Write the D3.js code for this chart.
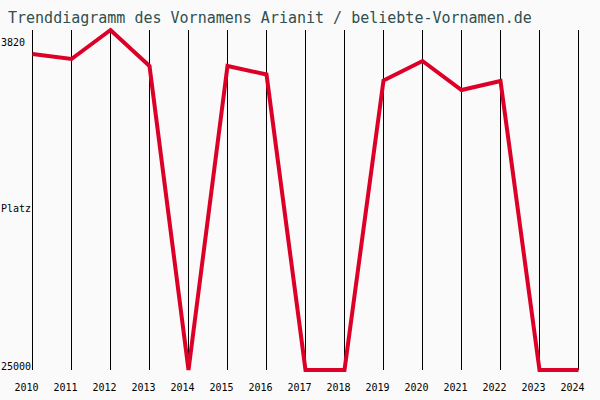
<!DOCTYPE html>
<html><head><meta charset="utf-8">
<script src="https://cdn.jsdelivr.net/npm/d3@7"></script>
<style>html,body{margin:0;padding:0;background:#fafafa;}svg{display:block;}</style>
</head><body>
<script>
const years = [2010,2011,2012,2013,2014,2015,2016,2017,2018,2019,2020,2021,2022,2023,2024];
const ranks = [5315,5626,3820,6062,25000,6062,6592,25000,25000,6966,5751,7557,6997,25000,25000];
const yTickLabels = ["3820","25000"];
const titleText = "Trenddiagramm des Vornamens Arianit / beliebte-Vornamen.de";
const yAxisLabel = "Platz";

const W=600,H=400;
const svg=d3.select("body").append("svg").attr("width",W).attr("height",H);
svg.append("rect").attr("width",W).attr("height",H).attr("fill","#fafafa");

const x=d3.scalePoint().domain(years).range([32.5,578.5]);
const y=d3.scaleLinear().domain([3820,25000]).range([30,370]);

svg.append("text").attr("x",8).attr("y",23).text(titleText)
  .attr("font-family","DejaVu Sans Mono").attr("font-size",15).attr("fill","#2f4f4f");

svg.append("g").selectAll("line").data(years).join("line")
  .attr("x1",d=>x(d)).attr("x2",d=>x(d)).attr("y1",30).attr("y2",370)
  .attr("stroke","#000").attr("stroke-width",1).attr("shape-rendering","crispEdges");

svg.append("g").selectAll("text").data(years).join("text")
  .attr("x",d=>x(d)-6).attr("y",391).attr("text-anchor","middle")
  .attr("font-family","DejaVu Sans Mono").attr("font-size",10).attr("fill","#000").text(d=>d);

svg.append("text").attr("x",1).attr("y",46).text(yTickLabels[0])
  .attr("font-family","DejaVu Sans Mono").attr("font-size",10).attr("fill","#000");
svg.append("text").attr("x",1).attr("y",370).text(yTickLabels[1])
  .attr("font-family","DejaVu Sans Mono").attr("font-size",10).attr("fill","#000");
svg.append("text").attr("x",1).attr("y",212).text(yAxisLabel)
  .attr("font-family","DejaVu Sans Mono").attr("font-size",10).attr("fill","#000");

const line=d3.line().x((d,i)=>x(years[i])).y(d=>y(d));
svg.append("path").datum(ranks).attr("d",line).attr("fill","none")
  .attr("stroke","#dc0028").attr("stroke-width",4).attr("stroke-linejoin","miter");
</script>
</body></html>
